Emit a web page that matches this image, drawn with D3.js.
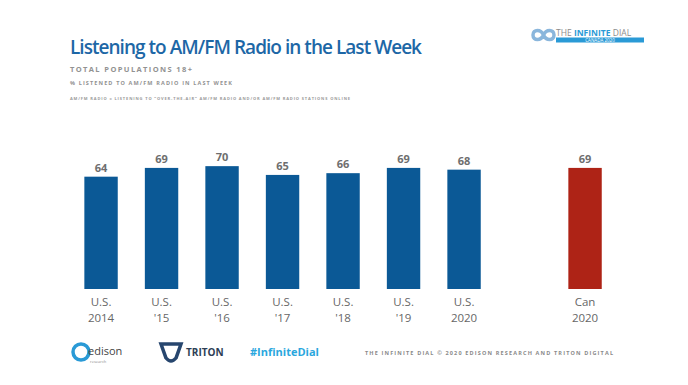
<!DOCTYPE html>
<meta charset="utf-8">
<style>
  body { margin: 0; background: #fff; }
  text { font-family: 'Open Sans', sans-serif; }
  .val { font-size: 11px; font-weight: 700; fill: #6e6e6e; }
  .tick { font-size: 11.5px; fill: #666; }
</style>
<body>
<svg id="chart" width="688" height="385"></svg>
<script src="https://cdn.jsdelivr.net/npm/d3@7"></script>
<script>
  var categories = [["U.S.", "2014"], ["U.S.", "'15"], ["U.S.", "'16"], ["U.S.", "'17"],
                    ["U.S.", "'18"], ["U.S.", "'19"], ["U.S.", "2020"], ["Can", "2020"]];
  var values = [64, 69, 70, 65, 66, 69, 68, 69];
  var isCanada = [false, false, false, false, false, false, false, true];

  var svg = d3.select("#chart");

  // slot 7 is left empty between U.S. and Canada
  var slot = function(i) { return i < 7 ? i : i + 1; };

  var x = d3.scaleBand()
      .domain(d3.range(9))
      .range([70.8, 615.3])
      .paddingInner(0.448)
      .paddingOuter(0.224);

  var y = d3.scaleLinear()
      .domain([0, 100])
      .range([289, 113.5]);

  var cx = function(i) { return x(slot(i)) + x.bandwidth() / 2; };

  // title block
  svg.append("text")
      .attr("x", 70).attr("y", 54)
      .attr("textLength", 352)
      .style("font-size", "19px").style("font-weight", 600)
      .style("fill", "#1d67a6")
      .text("Listening to AM/FM Radio in the Last Week");

  svg.append("text")
      .attr("x", 70).attr("y", 72)
      .attr("textLength", 122)
      .style("font-size", "7.5px").style("font-weight", 700)
      .style("fill", "#929292")
      .text("TOTAL POPULATIONS 18+");

  svg.append("text")
      .attr("x", 70).attr("y", 85)
      .attr("textLength", 162)
      .style("font-size", "5.5px").style("font-weight", 700)
      .style("fill", "#929292")
      .text("% LISTENED TO AM/FM RADIO IN LAST WEEK");

  svg.append("text")
      .attr("x", 70).attr("y", 100)
      .attr("textLength", 280)
      .style("font-size", "4px").style("font-weight", 700)
      .style("fill", "#9a9a9a")
      .text("AM/FM RADIO = LISTENING TO \u201COVER-THE-AIR\u201D AM/FM RADIO AND/OR AM/FM RADIO STATIONS ONLINE");

  // bars
  svg.append("g").selectAll("rect")
      .data(values)
      .enter().append("rect")
      .attr("x", function(d, i) { return x(slot(i)); })
      .attr("y", function(d) { return y(d); })
      .attr("width", x.bandwidth())
      .attr("height", function(d) { return y(0) - y(d); })
      .attr("fill", function(d, i) { return isCanada[i] ? "#ae2316" : "#0b5996"; });

  svg.append("g").selectAll("text")
      .data(values)
      .enter().append("text")
      .attr("class", "val")
      .attr("text-anchor", "middle")
      .attr("x", function(d, i) { return cx(i); })
      .attr("y", function(d) { return y(d) - 5; })
      .text(function(d) { return d; });

  // category labels, two lines each
  var labels = svg.append("g");
  labels.selectAll("text.l1")
      .data(categories)
      .enter().append("text")
      .attr("class", "tick l1")
      .attr("text-anchor", "middle")
      .attr("x", function(d, i) { return cx(i); })
      .attr("y", 306)
      .text(function(d) { return d[0]; });
  labels.selectAll("text.l2")
      .data(categories)
      .enter().append("text")
      .attr("class", "tick l2")
      .attr("text-anchor", "middle")
      .attr("x", function(d, i) { return cx(i); })
      .attr("y", 322)
      .text(function(d) { return d[1]; });

  // top-right badge
  var badge = svg.append("g");
  badge.append("path")
      .attr("d", "M533,35 C533,29 541,29 543.5,35 C546,41 554,41 554,35 C554,29 546,29 543.5,35 C541,41 533,41 533,35 Z")
      .attr("fill", "none").attr("stroke", "#8ab6dc").attr("stroke-width", 3.5);
  badge.append("text")
      .attr("x", 556).attr("y", 36)
      .style("font-size", "8.5px").style("fill", "#8c8c8c")
      .html("THE <tspan style='font-weight:700;fill:#2a9ad6'>INFINITE</tspan> DIAL");
  badge.append("rect")
      .attr("x", 556).attr("y", 37.5).attr("width", 88).attr("height", 5)
      .attr("fill", "#2a9ad6");
  badge.append("text")
      .attr("x", 600).attr("y", 41.8).attr("text-anchor", "middle")
      .style("font-size", "4.5px").style("fill", "#fff")
      .text("CANADA 2020");

  // footer logos
  var foot = svg.append("g");
  foot.append("circle").attr("cx", 81).attr("cy", 352).attr("r", 8)
      .attr("fill", "none").attr("stroke", "#2a9ad6").attr("stroke-width", 3.5);
  foot.append("text").attr("x", 88).attr("y", 355)
      .style("font-size", "11px").style("fill", "#444").text("edison");
  foot.append("text").attr("x", 90).attr("y", 363)
      .style("font-size", "4px").style("fill", "#888").text("research");

  foot.append("path")
      .attr("d", "M161,344 L181,344 L176,358 Q171,364 166,358 Z")
      .attr("fill", "none").attr("stroke", "#27466e").attr("stroke-width", 3.5);
  foot.append("text").attr("x", 186).attr("y", 356)
      .style("font-size", "10px").style("font-weight", 700)
      .style("fill", "#2d3e55").text("TRITON");

  foot.append("text").attr("x", 250).attr("y", 356)
      .style("font-size", "11px").style("font-weight", 700)
      .style("fill", "#2aa7de").text("#InfiniteDial");

  foot.append("text").attr("x", 365).attr("y", 355)
      .attr("textLength", 248)
      .style("font-size", "5.5px").style("font-weight", 700)
      .style("fill", "#8a8a8a")
      .text("THE INFINITE DIAL   \u00A9 2020 EDISON RESEARCH AND TRITON DIGITAL");
</script>
</body>
